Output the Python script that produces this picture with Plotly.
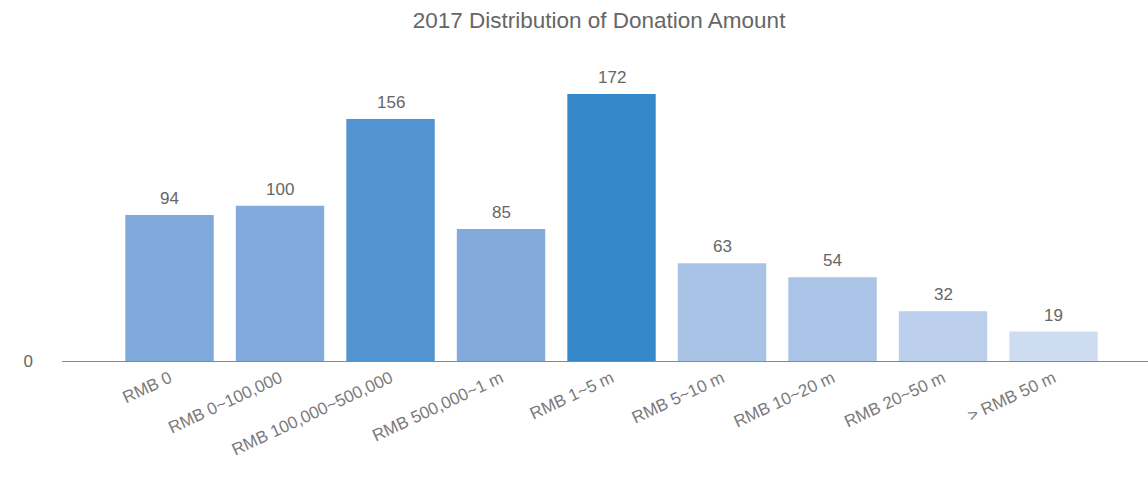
import plotly.graph_objects as go

categories = ["RMB 0", "RMB 0~100,000", "RMB 100,000~500,000", "RMB 500,000~1 m",
              "RMB 1~5 m", "RMB 5~10 m", "RMB 10~20 m", "RMB 20~50 m", "> RMB 50 m"]
counts = [94, 100, 156, 85, 172, 63, 54, 32, 19]
bar_colors = ["#7FA8DB", "#82AADC", "#5294D0", "#84AADB", "#3589CA",
              "#A9C3E7", "#AAC3E6", "#BBCFEC", "#CDDCF1"]

FONT = "Liberation Sans, Arial, Helvetica, sans-serif"
positions = list(range(len(categories)))

fig = go.Figure(
    go.Bar(
        x=positions,
        y=counts,
        width=0.8,
        marker=dict(color=bar_colors, line=dict(width=0)),
        hoverinfo="x+y",
    )
)

# value labels above each bar
for pos, val in zip(positions, counts):
    fig.add_annotation(
        x=pos, y=val, xref="x", yref="y",
        text=str(val), showarrow=False,
        yanchor="bottom", yshift=5,
        font=dict(family=FONT, size=17, color="#666666"),
    )

fig.update_layout(
    width=1148,
    height=484,
    margin=dict(l=62, r=0, t=50, b=123),
    paper_bgcolor="white",
    plot_bgcolor="white",
    showlegend=False,
    title=dict(
        text="2017 Distribution of Donation Amount",
        x=0.4945,
        xref="paper",
        xanchor="center",
        y=0.958,
        yanchor="middle",
        font=dict(family=FONT, size=22.5, color="#666666"),
    ),
    xaxis=dict(
        range=[-0.973, 8.855],
        tickmode="array",
        tickvals=positions,
        ticktext=categories,
        tickangle=-25,
        tickfont=dict(family=FONT, size=17, color="#7a7a7a"),
        showgrid=False,
        zeroline=False,
        showline=True,
        linecolor="#888888",
        linewidth=1,
        ticks="",
    ),
    yaxis=dict(
        range=[0, 200.4],
        tickmode="array",
        tickvals=[0],
        ticktext=["0"],
        tickfont=dict(family=FONT, size=17, color="#666666"),
        ticklabelstandoff=28,
        showgrid=False,
        zeroline=False,
        showline=False,
        ticks="",
    ),
)

fig.write_html("out.html")
